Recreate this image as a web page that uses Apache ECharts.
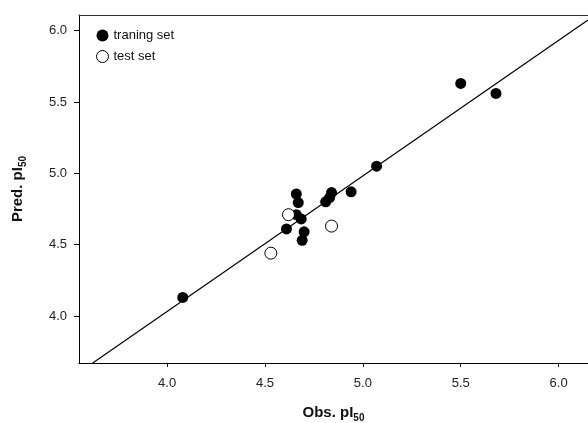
<!DOCTYPE html>
<html>
<head>
<meta charset="utf-8">
<script src="https://cdn.jsdelivr.net/npm/echarts@6/dist/echarts.min.js"></script>
<style>
  html, body { margin: 0; padding: 0; background: #fff; }
  #chart { width: 588px; height: 423px; }
</style>
</head>
<body>
<div id="chart"></div>
<script>
// observed vs predicted pI50
var trainObs  = [4.08, 4.61, 4.66, 4.685, 4.66, 4.67, 4.70, 4.69, 4.81, 4.83, 4.84, 4.94, 5.07, 5.50, 5.68]
var trainPred = [4.13, 4.61, 4.71, 4.68, 4.855, 4.795, 4.59, 4.53, 4.80, 4.83, 4.865, 4.87, 5.05, 5.63, 5.56]
var testObs   = [4.53, 4.62, 4.84]
var testPred  = [4.44, 4.71, 4.63]
// fitted line end points
var fitObs  = [3.62, 6.15]
var fitPred = [3.67, 6.075]
var tickValues = [4.0, 4.5, 5.0, 5.5, 6.0]

function pairs(xs, ys) {
  return xs.map(function (x, i) { return [x, ys[i]] })
}

var font = 'Liberation Sans, Arial, sans-serif'
var nameRich = {
  a: { fontSize: 15, fontWeight: 'bold', color: '#111', fontFamily: font },
  s: { fontSize: 10, fontWeight: 'bold', color: '#111', fontFamily: font, padding: [11, 0, 0, 0] }
}
var chart = echarts.init(document.getElementById('chart'))

chart.setOption({
  animation: false,
  textStyle: { fontFamily: font },
  grid: { left: 79, right: 0, top: 15, bottom: 60, outerBoundsMode: 'none' },
  legend: {
    orient: 'vertical',
    left: 91,
    top: 24,
    itemWidth: 12,
    itemHeight: 12,
    itemGap: 8,
    itemStyle: { borderWidth: 1 },
    textStyle: { fontSize: 13, color: '#111', fontFamily: font },
    data: ['traning set', 'test set']
  },
  xAxis: [{
    type: 'value',
    min: 3.55,
    max: 6.15,
    splitLine: { show: false },
    axisLine: { lineStyle: { color: '#000', width: 1 } },
    axisTick: { customValues: tickValues, length: 4, lineStyle: { color: '#000' } },
    axisLabel: {
      color: '#222', fontSize: 13, margin: 14,
      customValues: tickValues,
      formatter: function (v) { return v.toFixed(1) }
    },
    name: '{a|Obs. pI}{s|50}',
    nameLocation: 'middle',
    nameGap: 39,
    nameTextStyle: { rich: nameRich }
  }, {
    type: 'value',
    position: 'top',
    min: 3.55,
    max: 6.15,
    axisLine: { show: true, lineStyle: { color: '#333', width: 1 } },
    axisTick: { show: false },
    axisLabel: { show: false },
    splitLine: { show: false }
  }],
  yAxis: {
    type: 'value',
    min: 3.67,
    max: 6.11,
    splitLine: { show: false },
    axisLine: { show: true, lineStyle: { color: '#000', width: 1 } },
    axisTick: { show: true, customValues: tickValues, length: 5, lineStyle: { color: '#000' } },
    axisLabel: {
      color: '#222', fontSize: 13, margin: 12,
      customValues: tickValues,
      formatter: function (v) { return v.toFixed(1) }
    },
    name: '{a|Pred. pI}{s|50}',
    nameLocation: 'middle',
    nameRotate: 90,
    nameGap: 51,
    nameTextStyle: { rich: nameRich }
  },
  series: [{
    name: 'fit',
    type: 'line',
    data: pairs(fitObs, fitPred),
    symbol: 'none',
    lineStyle: { color: '#000', width: 1.2 },
    silent: true
  }, {
    name: 'traning set',
    type: 'scatter',
    data: pairs(trainObs, trainPred),
    symbolSize: 11,
    itemStyle: { color: '#000', opacity: 1 }
  }, {
    name: 'test set',
    type: 'scatter',
    data: pairs(testObs, testPred),
    symbolSize: 12,
    itemStyle: { color: '#fff', borderColor: '#000', borderWidth: 1, opacity: 1 }
  }]
})
</script>
</body>
</html>
